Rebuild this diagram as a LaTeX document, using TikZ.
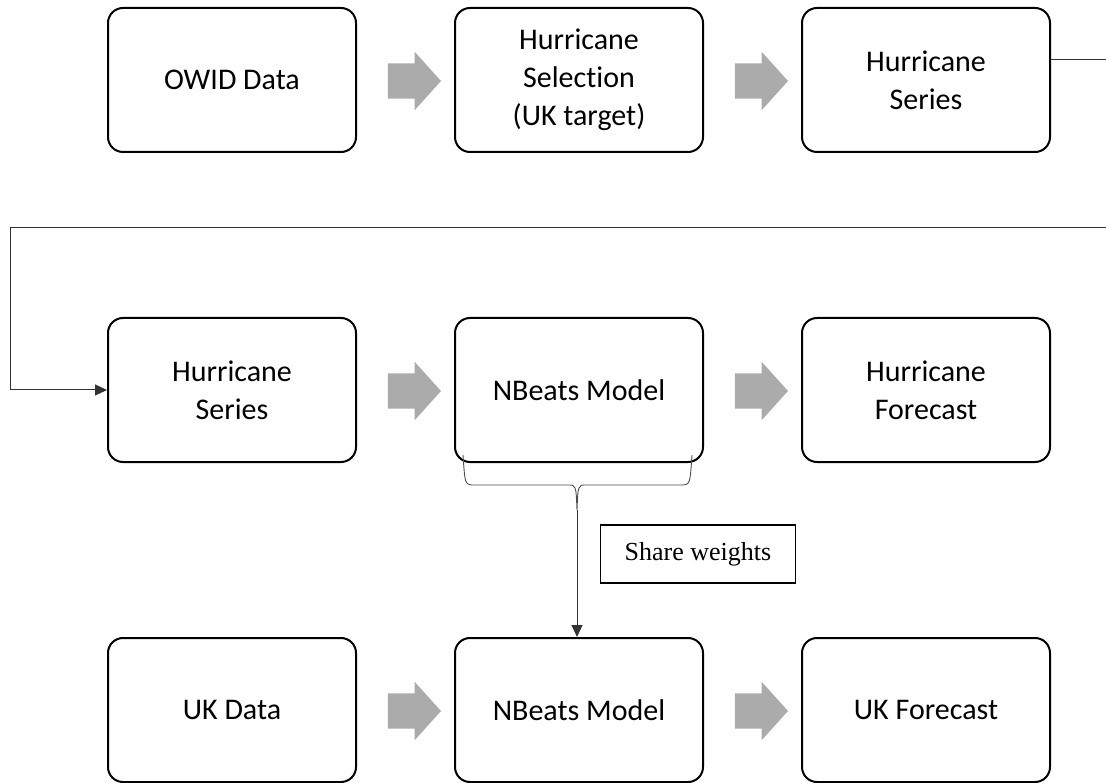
\documentclass[tikz,border=0pt]{standalone}
\usepackage{fontspec}
\setmainfont{Carlito}[Ligatures=NoCommon]
\newfontfamily\timesfont{Liberation Serif}
\usetikzlibrary{positioning,shapes.arrows,arrows.meta,calc}

\begin{document}
\begin{tikzpicture}[x=1pt,y=-1pt,
	box/.style={draw,line width=2pt,rounded corners=15pt,minimum width=248pt,minimum height=144pt,align=center,font=\fontsize{30}{38}\selectfont},
	fat/.style={single arrow,fill=black!33,draw=none,inner xsep=0pt,inner ysep=17.5pt,single arrow head extend=11.5pt,single arrow tip angle=96,minimum height=53pt},
	wire/.style={draw=black!80,line width=1pt},
	tip/.style={-{Triangle[length=12pt,width=11pt]}}]
	\useasboundingbox (0,0) rectangle (1106,783);
	% row 1
	\node[box] (owid) at (232,80) {OWID Data};
	\node[box,right=97pt of owid] (sel) {Hurricane\\Selection\\(UK target)};
	\node[box,right=97pt of sel] (hser) {Hurricane\\Series};
	% row 2
	\node[box,below=164pt of owid] (hin) {Hurricane\\Series};
	\node[box,right=97pt of hin] (nb) {NBeats Model};
	\node[box,right=97pt of nb] (hfc) {Hurricane\\Forecast};
	% row 3
	\node[box,below=174pt of hin] (uk) {UK Data};
	\node[box,right=97pt of uk] (nb2) {NBeats Model};
	\node[box,right=97pt of nb2] (ukfc) {UK Forecast};
	\foreach \a/\b [count=\i] in {owid/sel,sel/hser,hin/nb,nb/hfc,uk/nb2,nb2/ukfc}
		\node[fat] (arr\i) at ($(\a.east)!0.5!(\b.west)+(1,1)$) {};
	% wrap round to the second row
	\coordinate (out) at ($(hser.east)+(0,-20)$);
	\coordinate (r1) at (1106,60);
	\coordinate (r2) at (1106,228);
	\coordinate (l2) at (10,228);
	\draw[wire] (out) -- (r1);
	\draw[wire,tip] (r2) -- (l2) |- (hin.west);
	% brace and shared weights
	\coordinate (bl) at (463,455);
	\coordinate (br) at (692,455);
	\coordinate (bt) at (577,510);
	\draw[draw=black!70,line width=0.9pt] (bl) .. controls (465,484) .. (472,485) -- (568,485) .. controls (576,485) .. (bt)
		.. controls (578,485) .. (586,485) -- (683,485) .. controls (690,484) .. (br);
	\draw[wire,tip] (bt) -- (bt |- nb2.north);
	\node[draw,line width=1.5pt,minimum width=195pt,minimum height=58pt,font=\timesfont\fontsize{26}{30}\selectfont] (share) at (698,554) {Share weights};
\end{tikzpicture}
\end{document}
